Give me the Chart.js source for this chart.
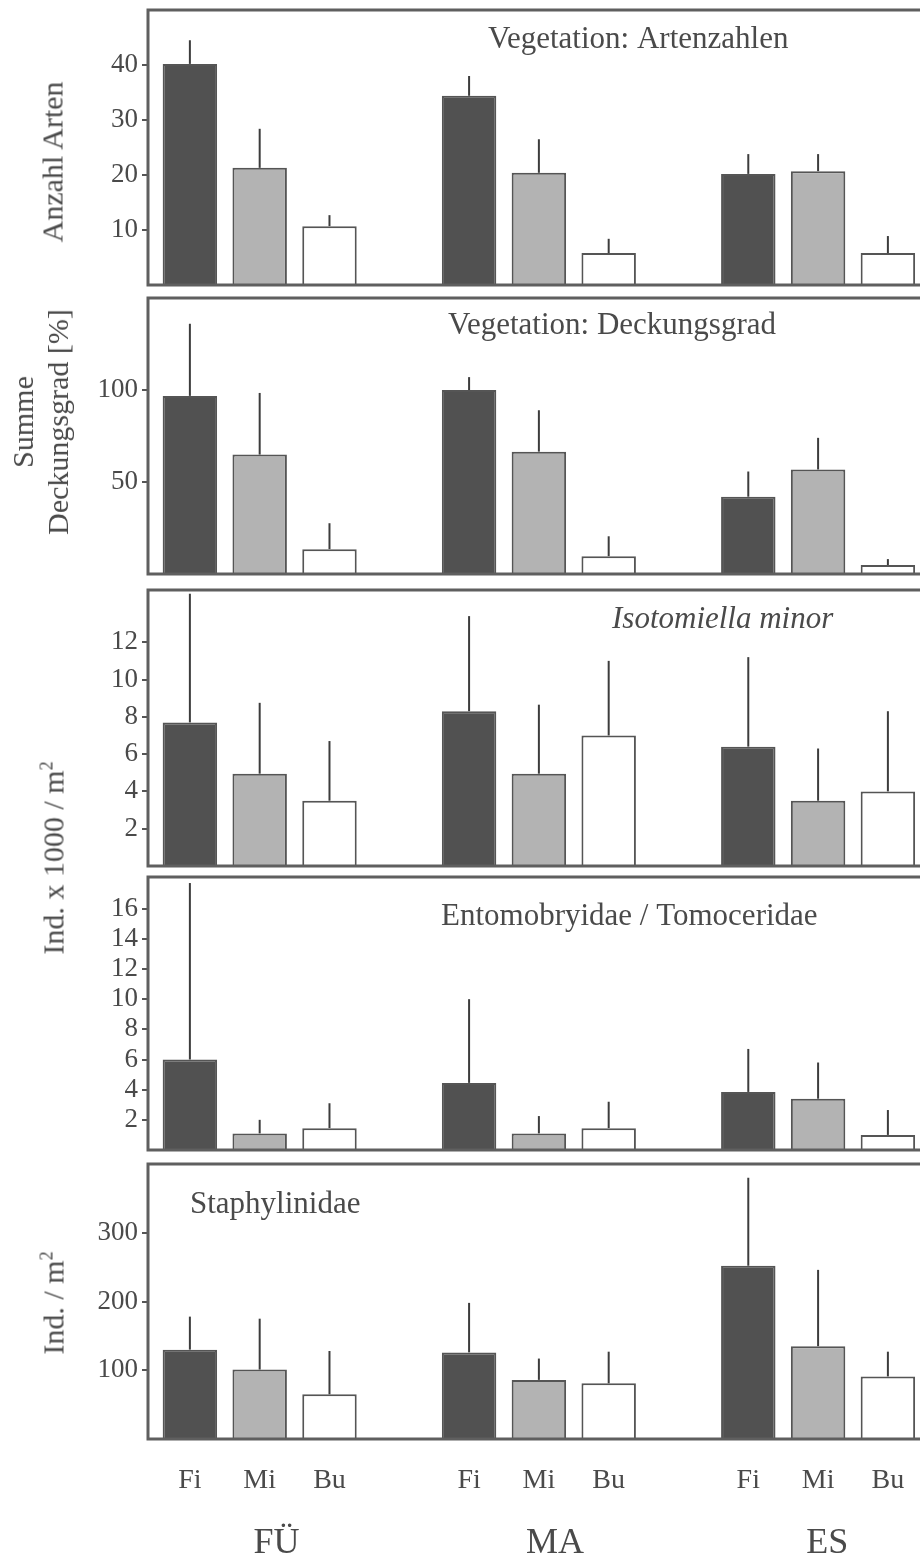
<!DOCTYPE html>
<html>
<head>
<meta charset="utf-8">
<script src="https://cdn.jsdelivr.net/npm/chart.js@4.4.1/dist/chart.umd.min.js"></script>
<style>
  body { margin: 0; background: #fff; overflow: hidden; }
  #wrap { position: relative; width: 920px; height: 1559px; }
  canvas { position: absolute; left: 0; }
  .ytitle {
    position: absolute; white-space: nowrap; text-align: center;
    font-family: "Liberation Serif", serif; font-size: 30px; line-height: 35px; color: #4a4a4a;
    transform: translate(-50%, -50%) rotate(-90deg);
  }
</style>
</head>
<body>
<div id="wrap">
  <canvas id="p1"></canvas>
  <canvas id="p2"></canvas>
  <canvas id="p3"></canvas>
  <canvas id="p4"></canvas>
  <canvas id="p5"></canvas>
  <div class="ytitle" style="left:52px; top:162px;">Anzahl Arten</div>
  <div class="ytitle" style="left:40px; top:422px;">Summe<br>Deckungsgrad [%]</div>
  <div class="ytitle" style="left:50px; top:858px;">Ind. x 1000 / m<sup style="font-size:18px">2</sup></div>
  <div class="ytitle" style="left:50px; top:1303px;">Ind. / m<sup style="font-size:18px">2</sup></div>
</div>
<script>
// ---- data -------------------------------------------------------------
// sites (groups) and forest types (bars per group)
const sites = ['FÜ', 'MA', 'ES'];
const forests = ['Fi', 'Mi', 'Bu'];

// Vegetation: Artenzahlen (mean, sd) per site [FÜ, MA, ES]
const artenFi = [40.2, 34.4, 20.2], artenFiSd = [4.3, 3.6, 3.6];
const artenMi = [21.3, 20.4, 20.7], artenMiSd = [7.1, 6.1, 3.1];
const artenBu = [10.7, 5.8, 5.8],   artenBuSd = [2.0, 2.6, 3.1];

// Vegetation: Deckungsgrad [%]
const deckFi = [96.8, 100, 42],   deckFiSd = [39.2, 7, 13.7];
const deckMi = [64.9, 66.5, 56.8], deckMiSd = [33.5, 22.5, 17.2];
const deckBu = [13.5, 9.7, 4.9],  deckBuSd = [14.1, 10.8, 3.2];

// Isotomiella minor (Ind. x 1000 / m2)
const isoFi = [7.7, 8.3, 6.4],   isoFiSd = [6.9, 5.1, 4.8];
const isoMi = [4.95, 4.95, 3.5], isoMiSd = [3.8, 3.7, 2.8];
const isoBu = [3.5, 7.0, 4.0],   isoBuSd = [3.2, 4.0, 4.3];

// Entomobryidae / Tomoceridae (Ind. x 1000 / m2)
const entFi = [6.0, 4.45, 3.85], entFiSd = [11.7, 5.55, 2.85];
const entMi = [1.1, 1.1, 3.4],   entMiSd = [0.9, 1.15, 2.4];
const entBu = [1.45, 1.45, 1.0], entBuSd = [1.65, 1.75, 1.65];

// Staphylinidae (Ind. / m2)
const staFi = [130, 126, 252], staFiSd = [48, 72, 128];
const staMi = [101, 86, 135],  staMiSd = [74, 31, 111];
const staBu = [65, 81, 91],    staBuSd = [63, 46, 36];

// y tick labels per panel
const ticksArten = [10, 20, 30, 40];
const ticksDeck = [50, 100];
const ticksIso = [2, 4, 6, 8, 10, 12];
const ticksEnt = [2, 4, 6, 8, 10, 12, 14, 16];
const ticksSta = [100, 200, 300];

// ---- layout -----------------------------------------------------------
const INK = '#4a4a4a';
const SERIF = '"Liberation Serif", "DejaVu Serif", serif';
const barColors = ['#515151', '#b3b3b3', '#ffffff'];
// slot of each forest type within a group; groups are 4 slots apart
const slotOf = (site, f) => site * 4 + f;
const X_MIN = -0.6, X_MAX = 10.46;
// where the site names sit on the slot axis (slightly right of the middle bar, as printed)
const sitePos = [1.24, 5.23, 9.13];

// no extra room for half-labels at the ends of the axes
const noPad = s => { s.paddingTop = 0; s.paddingBottom = 0; s.paddingLeft = 0; s.paddingRight = 0; };

const frameAndTitle = {
  id: 'frameAndTitle',
  afterDatasetsDraw(chart, args, opts) {
    const { ctx, chartArea: a, scales } = chart;
    const y = scales.y;
    // error bars (upward only)
    ctx.save();
    ctx.strokeStyle = '#3c3c3c';
    ctx.lineWidth = 2;
    chart.data.datasets.forEach((ds, di) => {
      chart.getDatasetMeta(di).data.forEach((bar, i) => {
        const top = y.getPixelForValue(ds.data[i].y + ds.sd[i]);
        ctx.beginPath();
        ctx.moveTo(bar.x, bar.y);
        ctx.lineTo(bar.x, top);
        ctx.stroke();
      });
    });
    // frame
    ctx.strokeStyle = '#5f5f5f';
    ctx.lineWidth = 3;
    ctx.strokeRect(a.left, a.top, a.right - a.left + 20, a.bottom - a.top);
    // panel title
    ctx.fillStyle = INK;
    ctx.font = (opts.italic ? 'italic ' : '') + '31px ' + SERIF;
    ctx.textBaseline = 'middle';
    ctx.textAlign = 'left';
    ctx.fillText(opts.text, opts.x, opts.y - opts.offsetTop);
    ctx.restore();
  }
};

function makeDatasets(means, sds) {
  return forests.map((f, fi) => ({
    label: f,
    data: means[fi].map((v, si) => ({ x: slotOf(si, fi), y: v })),
    sd: sds[fi],
    backgroundColor: barColors[fi],
    borderColor: '#555555',
    borderWidth: 2,
    grouped: false,
    barPercentage: 0.78,
    categoryPercentage: 1
  }));
}

function makePanel(id, top, bottom, yMax, yTicks, means, sds, title, last) {
  const canvas = document.getElementById(id);
  const canvasTop = top - 8;
  const height = last ? 1559 - canvasTop : bottom - top + 16;
  canvas.width = 920;
  canvas.height = height;
  canvas.style.width = '920px';
  canvas.style.height = height + 'px';
  canvas.style.top = canvasTop + 'px';
  title.offsetTop = canvasTop;

  const scales = {
    y: {
      min: 0, max: yMax,
      afterBuildTicks: s => { s.ticks = yTicks.map(v => ({ value: v })); },
      afterFit: s => { s.width = 148; noPad(s); },
      ticks: { font: { family: SERIF, size: 27 }, color: INK, padding: 4, autoSkip: false },
      grid: { drawOnChartArea: false, drawTicks: true, tickLength: 6, color: '#555', lineWidth: 2 },
      border: { display: false }
    },
    x: {
      type: 'linear', min: X_MIN, max: X_MAX, offset: false, display: !!last,
      afterBuildTicks: s => { s.ticks = [0, 1, 2, 4, 5, 6, 8, 9, 10].map(v => ({ value: v })); },
      afterFit: s => { s.height = last ? 70 : 0; noPad(s); },
      ticks: {
        callback: v => forests[v % 4],
        font: { family: SERIF, size: 28 }, color: INK, padding: 25, maxRotation: 0, autoSkip: false
      },
      grid: { display: false, drawTicks: false },
      border: { display: false }
    }
  };
  if (last) {
    scales.x2 = {
      type: 'linear', min: X_MIN, max: X_MAX, offset: false, position: 'bottom',
      afterBuildTicks: s => { s.ticks = sitePos.map(v => ({ value: v })); },
      afterFit: s => { s.height = 50; noPad(s); },
      ticks: {
        callback: (v, i) => sites[i],
        font: { family: SERIF, size: 36 }, color: INK, padding: 13, maxRotation: 0, autoSkip: false
      },
      grid: { display: false, drawTicks: false },
      border: { display: false }
    };
  }

  return new Chart(canvas, {
    type: 'bar',
    data: { datasets: makeDatasets(means, sds) },
    options: {
      responsive: false,
      maintainAspectRatio: false,
      animation: false,
      devicePixelRatio: 1,
      layout: { padding: { top: 8, bottom: last ? 0 : 8, left: 0, right: 0 } },
      scales: scales,
      plugins: {
        legend: { display: false },
        tooltip: { enabled: false },
        frameAndTitle: title
      }
    },
    plugins: [frameAndTitle]
  });
}

makePanel('p1', 10, 285, 50, ticksArten,
  [artenFi, artenMi, artenBu], [artenFiSd, artenMiSd, artenBuSd],
  { text: 'Vegetation: Artenzahlen', x: 488, y: 40 });
makePanel('p2', 298, 574, 150, ticksDeck,
  [deckFi, deckMi, deckBu], [deckFiSd, deckMiSd, deckBuSd],
  { text: 'Vegetation: Deckungsgrad', x: 448, y: 326 });
makePanel('p3', 590, 866, 14.8, ticksIso,
  [isoFi, isoMi, isoBu], [isoFiSd, isoMiSd, isoBuSd],
  { text: 'Isotomiella minor', x: 612, y: 620, italic: true });
makePanel('p4', 877, 1150, 18.1, ticksEnt,
  [entFi, entMi, entBu], [entFiSd, entMiSd, entBuSd],
  { text: 'Entomobryidae / Tomoceridae', x: 441, y: 917 });
makePanel('p5', 1164, 1439, 400, ticksSta,
  [staFi, staMi, staBu], [staFiSd, staMiSd, staBuSd],
  { text: 'Staphylinidae', x: 190, y: 1205 }, true);
</script>
</body>
</html>
